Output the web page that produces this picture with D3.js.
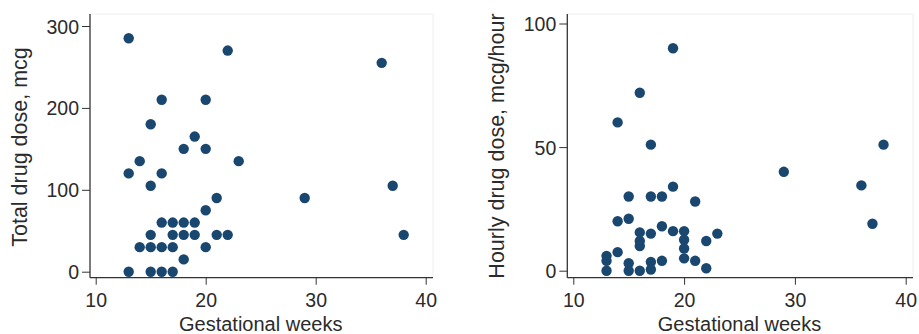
<!DOCTYPE html>
<html lang="en">
  <head>
    <meta charset="UTF-8" />
    <title>Drug dose by gestational weeks</title>
    <script src="https://d3js.org/d3.v7.min.js"></script>
    <style>
      body {
        margin: 0;
        padding: 0;
        background: #fff;
      }
      svg {
        display: block;
        font-family: "Liberation Sans", Arial, sans-serif;
      }
      .tick text {
        fill: #2b2b2b;
        font-size: 19.5px;
      }
      .axis-title {
        fill: #2b2b2b;
      }
    </style>
  </head>
  <body>
    <svg width="919" height="334"></svg>
    <script>
      // total dose panel
      const totalWeeks = [13, 22, 36, 16, 20, 15, 19, 18, 20, 14, 23, 13, 16, 15, 37, 29, 21, 20,
        16, 17, 18, 19, 15, 17, 18, 19, 21, 22, 38, 14, 15, 16, 17, 20, 18, 13, 15, 16, 17];
      const totalDose = [285, 270, 255, 210, 210, 180, 165, 150, 150, 135, 135, 120, 120, 105, 105, 90, 90, 75,
        60, 60, 60, 60, 45, 45, 45, 45, 45, 45, 45, 30, 30, 30, 30, 30, 15, 0, 0, 0, 0];

      // hourly dose panel
      const hourlyWeeks = [19, 16, 14, 17, 38, 29, 36, 19, 15, 17, 18, 21, 15, 14, 37, 18, 16, 17, 19, 20,
        23, 16, 16, 20, 20, 20, 21, 22, 22, 18, 17, 17, 13, 13, 13, 14, 15, 15, 16];
      const hourlyDose = [90, 72, 60, 51, 51, 40, 34.5, 34, 30, 30, 30, 28, 21, 20, 19, 18, 15.5, 15, 16, 16,
        15, 12, 10, 12.5, 9, 5, 4, 12, 1, 4, 3.5, 0.5, 6, 4, 0, 7.5, 3, 0, 0];

      const xTicks = [10, 20, 30, 40];
      const totalTicks = [0, 100, 200, 300];
      const hourlyTicks = [0, 50, 100];

      const svg = d3.select("svg");
      const dotColor = "#1a476f";

      function panel(opts) {
        const g = svg.append("g");
        const x = d3.scaleLinear().domain([10, 40]).range(opts.xRange);
        const y = d3.scaleLinear().domain(opts.yDomain).range(opts.yRange);

        // faint plot region outline (top/right)
        g.append("path")
          .attr("d", `M${opts.left},${opts.top}H${opts.right}V${opts.bottom}`)
          .attr("fill", "none")
          .attr("stroke", "#eeeeee");

        const xAxis = g
          .append("g")
          .attr("transform", `translate(0,${opts.bottom})`)
          .call(d3.axisBottom(x).tickValues(xTicks).tickSize(7).tickPadding(8));
        xAxis.select(".domain").remove();
        xAxis.selectAll(".tick line").attr("stroke", "#333");

        const yAxis = g
          .append("g")
          .attr("transform", `translate(${opts.left},0)`)
          .call(d3.axisLeft(y).tickValues(opts.yTicks).tickSize(8).tickPadding(3));
        yAxis.select(".domain").remove();
        yAxis.selectAll(".tick line").attr("stroke", "#333");
        yAxis.selectAll(".tick text").attr("dy", "0.36em");

        g.append("line")
          .attr("x1", opts.left)
          .attr("x2", opts.right)
          .attr("y1", opts.bottom)
          .attr("y2", opts.bottom)
          .attr("stroke", "#333")
          .attr("stroke-width", 1.3);
        g.append("line")
          .attr("x1", opts.left)
          .attr("x2", opts.left)
          .attr("y1", opts.top)
          .attr("y2", opts.bottom)
          .attr("stroke", "#333")
          .attr("stroke-width", 1.3);

        g.selectAll("circle")
          .data(opts.xs.map((w, i) => ({ w: w, v: opts.ys[i] })))
          .join("circle")
          .attr("cx", (d) => x(d.w))
          .attr("cy", (d) => y(d.v))
          .attr("r", 5.2)
          .attr("fill", dotColor);

        g.append("text")
          .attr("class", "axis-title")
          .attr("x", (opts.xRange[0] + opts.xRange[1]) / 2)
          .attr("y", 331)
          .attr("text-anchor", "middle")
          .style("font-size", "20px")
          .text("Gestational weeks");

        g.append("text")
          .attr("class", "axis-title")
          .attr("transform", `translate(${opts.titleX},${opts.titleY}) rotate(-90)`)
          .attr("text-anchor", "middle")
          .style("font-size", "21.5px")
          .text(opts.yTitle);
      }

      panel({
        xs: totalWeeks,
        ys: totalDose,
        xRange: [95.7, 425.7],
        yDomain: [0, 300],
        yRange: [271.7, 26],
        yTicks: totalTicks,
        left: 90,
        right: 433,
        top: 14,
        bottom: 277.7,
        titleX: 27,
        titleY: 147,
        yTitle: "Total drug dose, mcg",
      });

      panel({
        xs: hourlyWeeks,
        ys: hourlyDose,
        xRange: [573.3, 905.7],
        yDomain: [0, 100],
        yRange: [270.7, 23.5],
        yTicks: hourlyTicks,
        left: 567.3,
        right: 913,
        top: 14,
        bottom: 277.7,
        titleX: 504,
        titleY: 146,
        yTitle: "Hourly drug dose, mcg/hour",
      });
    </script>
  </body>
</html>
